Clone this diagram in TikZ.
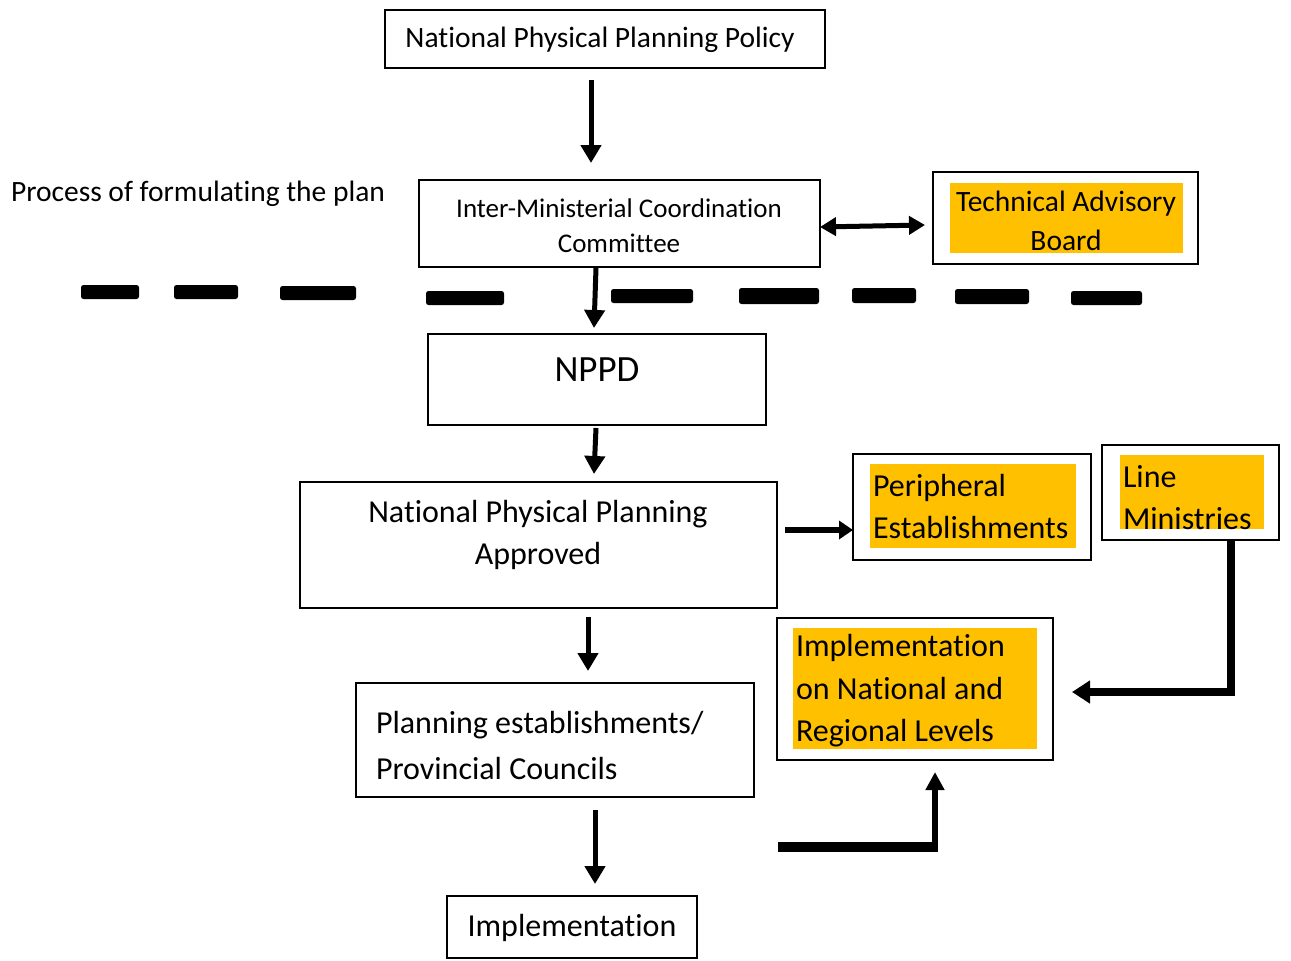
\documentclass[tikz,border=0pt]{standalone}
\usepackage{fontspec}
\setmainfont{Carlito}[Ligatures=NoCommon]
\usetikzlibrary{arrows.meta,calc}
\definecolor{gold}{RGB}{255,192,0}
\begin{document}
\begin{tikzpicture}[x=1pt,y=-1pt,
  box/.style={draw=black,line width=2pt,inner sep=0pt,outer sep=0pt},
  hl/.style={fill=gold,inner sep=0pt,outer sep=0pt},
  lbl/.style={inner sep=0pt,outer sep=0pt,text=black},
  dashbar/.style={fill=black,rounded corners=2.5pt},
  arr/.style={line width=5pt,-{Triangle[length=18pt,width=20pt]}},
  darr/.style={line width=5pt,{Triangle[length=16pt,width=18pt]}-{Triangle[length=16pt,width=18pt]}},
]
\useasboundingbox (0,0) rectangle (1291,961);
\fill[white] (0,0) rectangle (1291,961);

% boxes
\node[box,minimum width=440pt,minimum height=58pt] (pol) at (605,39) {};
\node[box,minimum width=401pt,minimum height=87pt] (imcc) at (619.5,223.5) {};
\node[box,minimum width=265pt,minimum height=92pt] (tab) at (1065.5,218) {};
\node[hl,minimum width=233pt,minimum height=70pt] (tabh) at (1066.5,218) {};
\node[box,minimum width=338pt,minimum height=91pt] (nppd) at (597,379.5) {};
\node[box,minimum width=477pt,minimum height=126pt] (appr) at (538.5,545) {};
\node[box,minimum width=238pt,minimum height=106pt] (peri) at (972,507) {};
\node[hl,minimum width=206pt,minimum height=84pt] (perih) at (973,506) {};
\node[box,minimum width=177pt,minimum height=95pt] (line) at (1190.5,492.5) {};
\node[hl,minimum width=144pt,minimum height=74pt] (lineh) at (1192,492) {};
\node[box,minimum width=276pt,minimum height=142pt] (inat) at (915,689) {};
\node[hl,minimum width=244pt,minimum height=121pt] (inath) at (915,688.5) {};
\node[box,minimum width=398pt,minimum height=114pt] (plan) at (555,740) {};
\node[box,minimum width=250pt,minimum height=62pt] (impl) at (572,927) {};

% texts
\node[lbl,font=\fontsize{29.5}{35}\selectfont] (tpol) at (600,40) {National Physical Planning Policy};
\node[lbl,anchor=west,font=\fontsize{29.5}{35}\selectfont] (tproc) at (11,194) {Process of formulating the plan};
\node[lbl,align=center,font=\fontsize{27}{35}\selectfont] (timcc) at (619,226) {Inter-Ministerial Coordination\\Committee};
\node[lbl,align=center,font=\fontsize{29.5}{39}\selectfont] (ttab) at (1066,221) {Technical Advisory\\Board};
\node[lbl,font=\fontsize{37}{44}\selectfont] (tnppd) at (597,370) {NPPD};
\node[lbl,align=center,font=\fontsize{32}{42}\selectfont] (tappr) at (538,535) {National Physical Planning\\Approved};
\node[lbl,anchor=west,align=left,font=\fontsize{32}{42}\selectfont] (tperi) at (873,507) {Peripheral\\Establishments};
\node[lbl,anchor=west,align=left,font=\fontsize{32}{42}\selectfont] (tline) at (1123,498) {Line\\Ministries};
\node[lbl,anchor=west,align=left,font=\fontsize{32}{42.5}\selectfont] (tinat) at (796,691) {Implementation\\on National and\\Regional Levels};
\node[lbl,anchor=west,align=left,font=\fontsize{32}{46}\selectfont] (tplan) at (376,745) {Planning establishments/\\Provincial Councils};
\node[lbl,font=\fontsize{32}{38}\selectfont] (timpl) at (572,928) {Implementation};

% dashed separator
\fill[dashbar] (81,285) rectangle (139,299);
\fill[dashbar] (174,285) rectangle (238,299);
\fill[dashbar] (280,286) rectangle (356,300);
\fill[dashbar] (426,291) rectangle (504,305);
\fill[dashbar] (611,289) rectangle (693,303);
\fill[dashbar] (739,288) rectangle (819,304);
\fill[dashbar] (852,288) rectangle (916,303);
\fill[dashbar] (955,289) rectangle (1029,304);
\fill[dashbar] (1071,291) rectangle (1142,305);

% connectors
\draw[arr] ($(pol.south)+(-14,12)$) -- ($(imcc.north)+(-28.5,-17)$);
\draw[arr] ($(imcc.south)+(-23.5,1)$) -- ($(nppd.north)+(-3,-6)$);
\draw[arr] ($(nppd.south)+(-1,3)$) -- ($(appr.north)+(55.5,-8)$);
\draw[arr] ($(appr.south)+(49.5,9)$) -- ($(plan.north)+(33,-12)$);
\draw[arr] ($(plan.south)+(40,13)$) -- ($(impl.north)+(23,-12)$);
\draw[darr] ($(imcc.east)+(0,3.5)$) -- ($(tab.west)+(-8,7)$);
\draw[line width=6pt,-{Triangle[length=14pt,width=18pt]}] ($(appr.east)+(8,-15)$) -- ($(peri.west)+(0,23)$);
\draw[line width=8pt,-{Triangle[length=18pt,width=22pt]}] ($(line.south)+(40.5,0)$) |- ($(inat.east)+(19,3)$);
\coordinate (hstart) at ($(plan.east)+(24,107)$);
\coordinate (hcorner) at ($(inat.south)+(20,87)$);
\draw[line width=10pt] (hstart) -- ($(hcorner)+(3,0)$);
\draw[line width=6pt,-{Triangle[length=18pt,width=18pt]}] ($(hcorner)+(0,5)$) -- ($(inat.south)+(20,12)$);
\end{tikzpicture}
\end{document}
